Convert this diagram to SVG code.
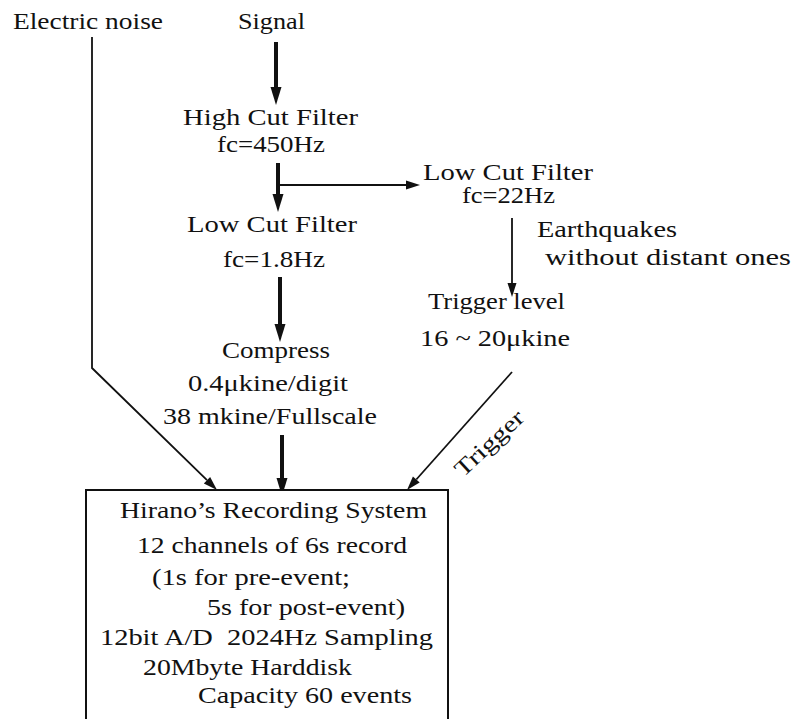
<svg xmlns="http://www.w3.org/2000/svg" width="793" height="719" viewBox="0 0 793 719">
<style>
text{font-family:'Liberation Serif','Times New Roman',serif;font-size:23px;fill:#111;}
.thick{stroke:#111;stroke-width:4;fill:none;}
.thin{stroke:#111;stroke-width:1.8;fill:none;}
.box{stroke:#111;stroke-width:2;fill:#fff;}
</style>
<defs>
<marker id="hk" markerUnits="userSpaceOnUse" markerWidth="20" markerHeight="14" refX="0" refY="6" orient="auto" overflow="visible">
<path d="M0,0.5 L18,6 L0,11.5 Z" fill="#111"/>
</marker>
<marker id="hn" markerUnits="userSpaceOnUse" markerWidth="16" markerHeight="12" refX="0" refY="5" orient="auto" overflow="visible">
<path d="M0,0.5 L14,5 L0,9.5 Z" fill="#111"/>
</marker>
</defs>
<rect width="793" height="719" fill="#fff"/>
<g id="connectors">
<path class="thick" d="M276,42 V87" marker-end="url(#hk)"/>
<path class="thick" d="M278,163 V194" marker-end="url(#hk)"/>
<path class="thin" d="M279,185 H406" marker-end="url(#hn)"/>
<path class="thick" d="M280,277 V324" marker-end="url(#hk)"/>
<path class="thick" d="M282,435 V478" marker-end="url(#hk)"/>
<path class="thin" d="M512,218 V283" marker-end="url(#hn)"/>
<path class="thin" d="M512,372 L416.3,479.5" marker-end="url(#hn)"/>
<path class="thin" d="M92,37 V368 L207,480.2" marker-end="url(#hn)"/>
<text x="463" y="478" textLength="86" lengthAdjust="spacingAndGlyphs" transform="rotate(-43 463 478)">Trigger</text>
</g>
<g id="electric-noise"><text x="13" y="29" textLength="150" lengthAdjust="spacingAndGlyphs">Electric noise</text></g>
<g id="signal"><text x="238" y="29" textLength="67" lengthAdjust="spacingAndGlyphs">Signal</text></g>
<g id="high-cut-filter">
<text x="183" y="125" textLength="175" lengthAdjust="spacingAndGlyphs">High Cut Filter</text>
<text x="217" y="152" textLength="108" lengthAdjust="spacingAndGlyphs">fc=450Hz</text>
</g>
<g id="low-cut-filter-1">
<text x="187" y="232" textLength="170" lengthAdjust="spacingAndGlyphs">Low Cut Filter</text>
<text x="223" y="267" textLength="102" lengthAdjust="spacingAndGlyphs">fc=1.8Hz</text>
</g>
<g id="compress">
<text x="222" y="358" textLength="108" lengthAdjust="spacingAndGlyphs">Compress</text>
<text x="188" y="391" textLength="160" lengthAdjust="spacingAndGlyphs">0.4μkine/digit</text>
<text x="163" y="424" textLength="214" lengthAdjust="spacingAndGlyphs">38 mkine/Fullscale</text>
</g>
<g id="low-cut-filter-2">
<text x="423" y="180" textLength="170" lengthAdjust="spacingAndGlyphs">Low Cut Filter</text>
<text x="462" y="203" textLength="93" lengthAdjust="spacingAndGlyphs">fc=22Hz</text>
</g>
<g id="earthquakes-label">
<text x="537" y="237" textLength="140" lengthAdjust="spacingAndGlyphs">Earthquakes</text>
<text x="545" y="265" textLength="246" lengthAdjust="spacingAndGlyphs">without distant ones</text>
</g>
<g id="trigger-level">
<text x="428" y="309" textLength="137" lengthAdjust="spacingAndGlyphs">Trigger level</text>
<text x="420" y="346" textLength="150" lengthAdjust="spacingAndGlyphs">16 ~ 20μkine</text>
</g>
<g id="recording-system">
<rect class="box" x="86" y="490" width="362" height="250"/>
<text x="120" y="518" textLength="307" lengthAdjust="spacingAndGlyphs">Hirano’s Recording System</text>
<text x="137" y="553" textLength="270" lengthAdjust="spacingAndGlyphs">12 channels of 6s record</text>
<text x="152" y="585" textLength="198" lengthAdjust="spacingAndGlyphs">(1s for pre-event;</text>
<text x="207" y="615" textLength="198" lengthAdjust="spacingAndGlyphs">5s for post-event)</text>
<text x="100" y="645" textLength="333" lengthAdjust="spacingAndGlyphs" xml:space="preserve">12bit A/D  2024Hz Sampling</text>
<text x="143" y="675" textLength="209" lengthAdjust="spacingAndGlyphs">20Mbyte Harddisk</text>
<text x="198" y="703" textLength="214" lengthAdjust="spacingAndGlyphs">Capacity 60 events</text>
</g>
</svg>
